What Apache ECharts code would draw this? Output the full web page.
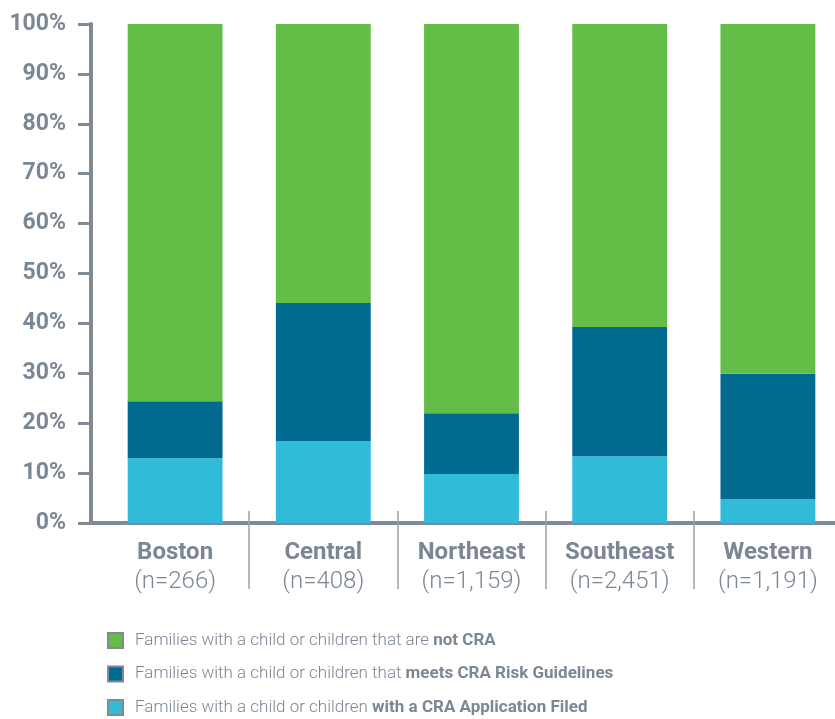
<!DOCTYPE html>
<html>
<head>
<meta charset="utf-8">
<script src="https://cdn.jsdelivr.net/npm/echarts@6/dist/echarts.min.js"></script>
<style>html,body{margin:0;padding:0;background:#fff}#c{width:835px;height:719px}</style>
</head>
<body>
<div id="c"></div>
<script>
var regions = ['Boston', 'Central', 'Northeast', 'Southeast', 'Western'];
var counts = ['(n=266)', '(n=408)', '(n=1,159)', '(n=2,451)', '(n=1,191)'];
var filed = [13.0, 16.4, 9.8, 13.4, 4.8];
var meets = [11.4, 27.7, 12.2, 25.9, 25.1];
var notCra = [75.6, 55.9, 78.0, 60.7, 70.1];
var yTicks = [0, 10, 20, 30, 40, 50, 60, 70, 80, 90, 100];
var legendText = {
  'not CRA': ['Families with a child or children that are ', 'not CRA'],
  'meets': ['Families with a child or children that ', 'meets CRA Risk Guidelines'],
  'filed': ['Families with a child or children ', 'with a CRA Application Filed']
};

var gray = '#7b8794';
var axisGray = '#7f8a96';
var chart = echarts.init(document.getElementById('c'));
chart.setOption({
  animation: false,
  grid: [
    {left: 91, width: 751, top: 24, bottom: 196, outerBoundsMode: 'none', containLabel: false},
    {left: 101, width: 741, top: 24, bottom: 196, outerBoundsMode: 'none', containLabel: false}
  ],
  xAxis: [
    {type: 'value', gridIndex: 0, min: 0, max: 1, position: 'bottom',
     axisLine: {show: true, lineStyle: {color: axisGray, width: 4}},
     axisTick: {show: false}, axisLabel: {show: false}, splitLine: {show: false}},
    {type: 'category', gridIndex: 1, data: regions, position: 'bottom',
     axisLine: {show: false},
     axisTick: {show: true, length: 66, interval: function (i) { return i !== 0; },
                lineStyle: {color: '#9aa3ad', width: 1.5}},
     axisLabel: {margin: 15, interval: 0,
       formatter: function (v, i) { return '{b|' + v + '}\n{n|' + counts[i] + '}'; },
       rich: {
         b: {fontFamily: 'Roboto', fontWeight: 'bold', fontSize: 24, color: gray, lineHeight: 29},
         n: {fontFamily: 'Roboto', fontWeight: 300, fontSize: 24, color: gray, lineHeight: 29}
       }}},
    {type: 'category', gridIndex: 1, data: regions, position: 'bottom',
     axisLine: {show: false},
     axisTick: {show: true, inside: true, length: 12, interval: function (i) { return i !== 0; },
                lineStyle: {color: '#9aa3ad', width: 1.5}},
     axisLabel: {show: false}}
  ],
  yAxis: [
    {type: 'value', gridIndex: 0, min: 0, max: 100, interval: 10,
     axisLine: {show: true, lineStyle: {color: axisGray, width: 4}},
     axisTick: {show: true, length: 13, lineStyle: {color: axisGray, width: 3}},
     splitLine: {show: false},
     axisLabel: {margin: 25, color: gray, fontFamily: 'Roboto', fontWeight: 'bold', fontSize: 23,
       formatter: function (v) { return yTicks.indexOf(v) >= 0 ? v + '%' : ''; }}},
    {type: 'value', gridIndex: 1, min: 0, max: 100, show: false}
  ],
  legend: {
    orient: 'vertical', left: 102, top: 627, height: 120,
    itemWidth: 15, itemHeight: 15, itemGap: 16.5,
    icon: 'rect',
    data: ['not CRA', 'meets', 'filed'],
    itemStyle: {borderColor: axisGray, borderWidth: 2},
    formatter: function (name) { var t = legendText[name]; return '{r|' + t[0] + '}{b|' + t[1] + '}'; },
    textStyle: {color: gray, fontFamily: 'Roboto', fontSize: 17, padding: [0, 0, 0, 7],
      rich: {
        r: {color: gray, fontFamily: 'Roboto', fontWeight: 300, fontSize: 17, lineHeight: 18},
        b: {color: gray, fontFamily: 'Roboto', fontWeight: 'bold', fontSize: 17, lineHeight: 18}
      }}
  },
  series: [
    {name: 'filed', type: 'bar', stack: 's', xAxisIndex: 1, yAxisIndex: 1, data: filed,
     barWidth: '64%', itemStyle: {color: '#31bbdb'}},
    {name: 'meets', type: 'bar', stack: 's', xAxisIndex: 1, yAxisIndex: 1, data: meets,
     barWidth: '64%', itemStyle: {color: '#006a90'}},
    {name: 'not CRA', type: 'bar', stack: 's', xAxisIndex: 1, yAxisIndex: 1, data: notCra,
     barWidth: '64%', itemStyle: {color: '#62be46'}}
  ]
});
</script>
</body>
</html>
